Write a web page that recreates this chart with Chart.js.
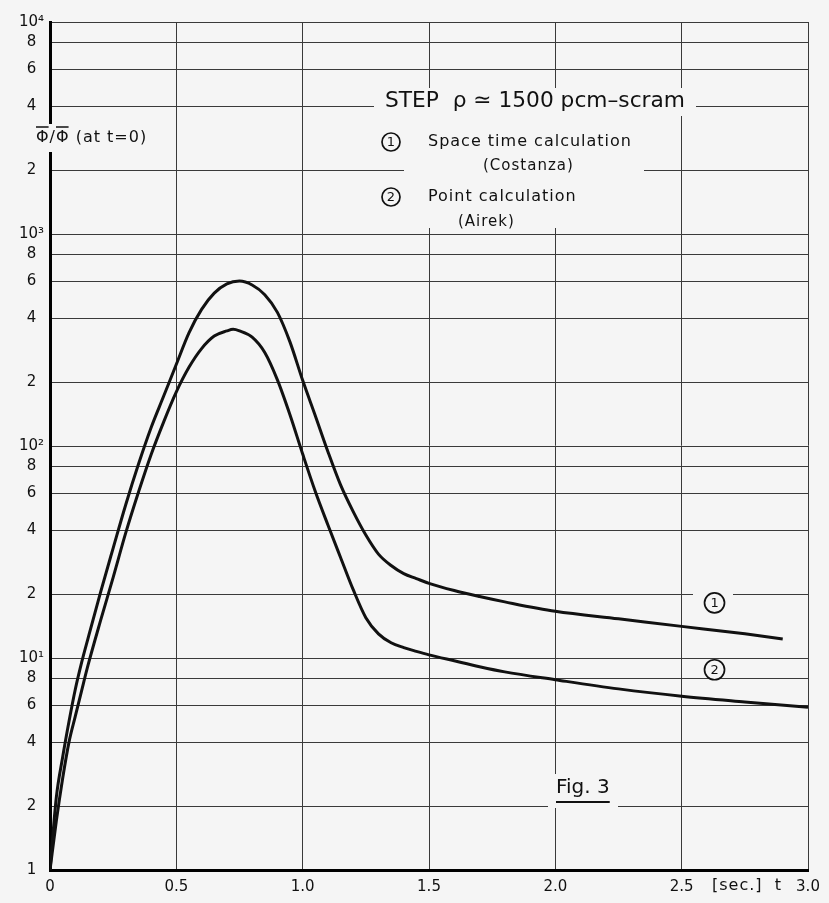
<!DOCTYPE html>
<html>
<head>
<meta charset="utf-8">
<script src="https://cdn.jsdelivr.net/npm/chart.js@4.4.0/dist/chart.umd.min.js"></script>
<style>
  html, body { margin: 0; padding: 0; background: #f5f5f5; }
  #wrap { width: 829px; height: 903px; }
</style>
</head>
<body>
<div id="wrap"><canvas id="fluxChart" width="829" height="903"></canvas></div>
<script>
// curve 1 - space time calculation (Costanza)
const timeSpace = [0, 0.025, 0.05, 0.075, 0.1, 0.125, 0.15, 0.2, 0.25, 0.3, 0.35, 0.4, 0.45, 0.5, 0.55, 0.6, 0.65, 0.7, 0.75, 0.8, 0.85, 0.9, 0.95, 1.0, 1.05, 1.1, 1.15, 1.2, 1.25, 1.3, 1.35, 1.4, 1.45, 1.5, 1.6, 1.7, 1.8, 2.0, 2.25, 2.5, 2.75, 2.9];
const fluxSpace = [1, 2.2, 3.4, 5.0, 7.1, 9.5, 12.3, 20.4, 33, 53, 82, 122, 172, 243, 342, 441, 526, 582, 600, 575, 517, 427, 309, 204, 139, 94, 65.5, 49, 38, 30.9, 27.3, 25, 23.7, 22.5, 20.8, 19.5, 18.4, 16.6, 15.3, 14.1, 13.0, 12.3];

// curve 2 - point calculation (Airek)
const timePoint = [0, 0.025, 0.05, 0.075, 0.1, 0.125, 0.15, 0.2, 0.25, 0.3, 0.35, 0.4, 0.45, 0.5, 0.55, 0.6, 0.65, 0.7, 0.725, 0.75, 0.8, 0.85, 0.9, 0.95, 1.0, 1.05, 1.1, 1.15, 1.2, 1.25, 1.3, 1.35, 1.4, 1.45, 1.5, 1.6, 1.7, 1.8, 2.0, 2.25, 2.5, 2.75, 3.0];
const fluxPoint = [1, 1.7, 2.7, 4.0, 5.3, 7.0, 9.2, 15, 24, 39, 60.5, 91, 130, 180, 235, 288, 330, 349, 355, 349, 326, 276, 205, 140, 91.6, 61, 42.4, 29.8, 21, 15.5, 13, 11.8, 11.2, 10.75, 10.35, 9.7, 9.1, 8.6, 7.9, 7.15, 6.6, 6.2, 5.85];

const yTickValues = [1, 2, 4, 6, 8, 10, 20, 40, 60, 80, 100, 200, 400, 600, 800, 1000, 2000, 4000, 6000, 8000, 10000];
const yTickLabels = ['1', '2', '4', '6', '8', '10¹', '2', '4', '6', '8', '10²', '2', '4', '6', '8', '10³', '2', '4', '6', '8', '10⁴'];
const xTickValues = [0, 0.5, 1, 1.5, 2, 2.5, 3];
const xTickLabels = ['0', '0.5', '1.0', '1.5', '2.0', '2.5', '3.0'];

const FONT = '"DejaVu Sans", sans-serif';
const BG = '#f5f5f5';
const INK = '#111';

function toPoints(xs, ys) {
  return xs.map((x, i) => ({ x: x, y: ys[i] }));
}

function circled(ctx, digit, x, y, r) {
  ctx.beginPath();
  ctx.arc(x, y, r, 0, Math.PI * 2);
  ctx.fillStyle = BG;
  ctx.fill();
  ctx.lineWidth = 1.7;
  ctx.strokeStyle = INK;
  ctx.stroke();
  ctx.fillStyle = INK;
  ctx.font = '13px ' + FONT;
  ctx.letterSpacing = '0px';
  ctx.textAlign = 'center';
  ctx.fillText(digit, x, y + 1);
}

function spaced(ctx, text, x, y, size) {
  ctx.font = size + 'px ' + FONT;
  ctx.letterSpacing = '1px';
  ctx.textAlign = 'left';
  ctx.fillStyle = INK;
  ctx.fillText(text, x, y);
}

const paperBg = {
  id: 'paperBg',
  beforeDraw(chart) {
    const ctx = chart.ctx;
    ctx.save();
    ctx.fillStyle = BG;
    ctx.fillRect(0, 0, chart.width, chart.height);
    ctx.restore();
  }
};

const lettering = {
  id: 'lettering',
  afterDraw(chart) {
    const ctx = chart.ctx;
    const xs = chart.scales.x;
    const ys = chart.scales.y;
    ctx.save();

    // gaps in the grid under the lettering
    ctx.fillStyle = BG;
    ctx.fillRect(374, 88, 322, 28);
    ctx.fillRect(404, 116, 240, 112);
    ctx.fillRect(33, 124, 118, 28);
    ctx.fillRect(548, 774, 70, 34);
    ctx.fillRect(693, 592, 40, 26);

    ctx.textBaseline = 'middle';

    ctx.fillStyle = INK;
    ctx.font = '22px ' + FONT;
    ctx.textAlign = 'left';
    ctx.fillText('STEP  ρ ≃ 1500 pcm–scram', 385, 101, 300);

    spaced(ctx, 'Space time calculation', 428, 142, 16);
    spaced(ctx, '(Costanza)', 483, 166, 15);
    spaced(ctx, 'Point calculation', 428, 197, 16);
    spaced(ctx, '(Airek)', 458, 222, 15);
    spaced(ctx, '[sec.]  t', 712, 886, 16);

    // flux ratio label with mean bars over the phi
    spaced(ctx, 'Φ/Φ (at t=0)', 36, 138, 16);
    ctx.font = '16px ' + FONT;
    const phiW = ctx.measureText('Φ').width - 1;
    const slashW = ctx.measureText('Φ/').width;
    ctx.lineWidth = 1.6;
    ctx.strokeStyle = INK;
    ctx.beginPath();
    ctx.moveTo(36, 127); ctx.lineTo(36 + phiW, 127);
    ctx.moveTo(36 + slashW, 127); ctx.lineTo(36 + slashW + phiW, 127);
    ctx.stroke();

    circled(ctx, '1', 391, 142, 9);
    circled(ctx, '2', 391, 197, 9);

    // curve markers, placed through the scales
    circled(ctx, '1', xs.getPixelForValue(2.63), ys.getPixelForValue(18.2), 10);
    circled(ctx, '2', xs.getPixelForValue(2.63), ys.getPixelForValue(8.8), 10);

    ctx.fillStyle = INK;
    ctx.textAlign = 'left';
    ctx.letterSpacing = '0px';
    ctx.font = '20px ' + FONT;
    ctx.fillText('Fig. 3', 556, 788);
    const w = ctx.measureText('Fig. 3').width;
    ctx.beginPath();
    ctx.moveTo(556, 802);
    ctx.lineTo(556 + w, 802);
    ctx.lineWidth = 2;
    ctx.strokeStyle = INK;
    ctx.stroke();

    ctx.restore();
  }
};

const ctx = document.getElementById('fluxChart').getContext('2d');
new Chart(ctx, {
  type: 'line',
  data: {
    datasets: [{
      label: 'Space time calculation (Costanza)',
      data: toPoints(timeSpace, fluxSpace),
      borderColor: INK,
      borderWidth: 3,
      pointRadius: 0,
      cubicInterpolationMode: 'monotone',
      fill: false
    }, {
      label: 'Point calculation (Airek)',
      data: toPoints(timePoint, fluxPoint),
      borderColor: INK,
      borderWidth: 3,
      pointRadius: 0,
      cubicInterpolationMode: 'monotone',
      fill: false
    }]
  },
  options: {
    responsive: false,
    animation: false,
    devicePixelRatio: 1,
    layout: { padding: { top: 22, right: 21, left: 0, bottom: 0 } },
    plugins: {
      legend: { display: false },
      tooltip: { enabled: false }
    },
    scales: {
      x: {
        type: 'linear',
        min: 0,
        max: 3,
        afterBuildTicks: (scale) => { scale.ticks = xTickValues.map(v => ({ value: v })); },
        afterFit: (scale) => { scale.height = 33; },
        grid: { color: '#3a3a3a', lineWidth: 1, drawTicks: false },
        border: { color: '#000', width: 3 },
        ticks: {
          padding: 8,
          color: INK,
          font: { family: FONT, size: 15 },
          maxRotation: 0,
          autoSkip: false,
          callback: (v) => xTickLabels[xTickValues.indexOf(v)]
        }
      },
      y: {
        type: 'logarithmic',
        min: 1,
        max: 10000,
        afterBuildTicks: (scale) => { scale.ticks = yTickValues.map(v => ({ value: v })); },
        afterFit: (scale) => { scale.width = 50; },
        grid: { color: '#3a3a3a', lineWidth: 1, drawTicks: false },
        border: { color: '#000', width: 3 },
        ticks: {
          padding: 6,
          crossAlign: 'center',
          color: INK,
          font: { family: FONT, size: 15 },
          autoSkip: false,
          callback: (v) => yTickLabels[yTickValues.indexOf(v)]
        }
      }
    }
  },
  plugins: [paperBg, lettering]
});
</script>
</body>
</html>
